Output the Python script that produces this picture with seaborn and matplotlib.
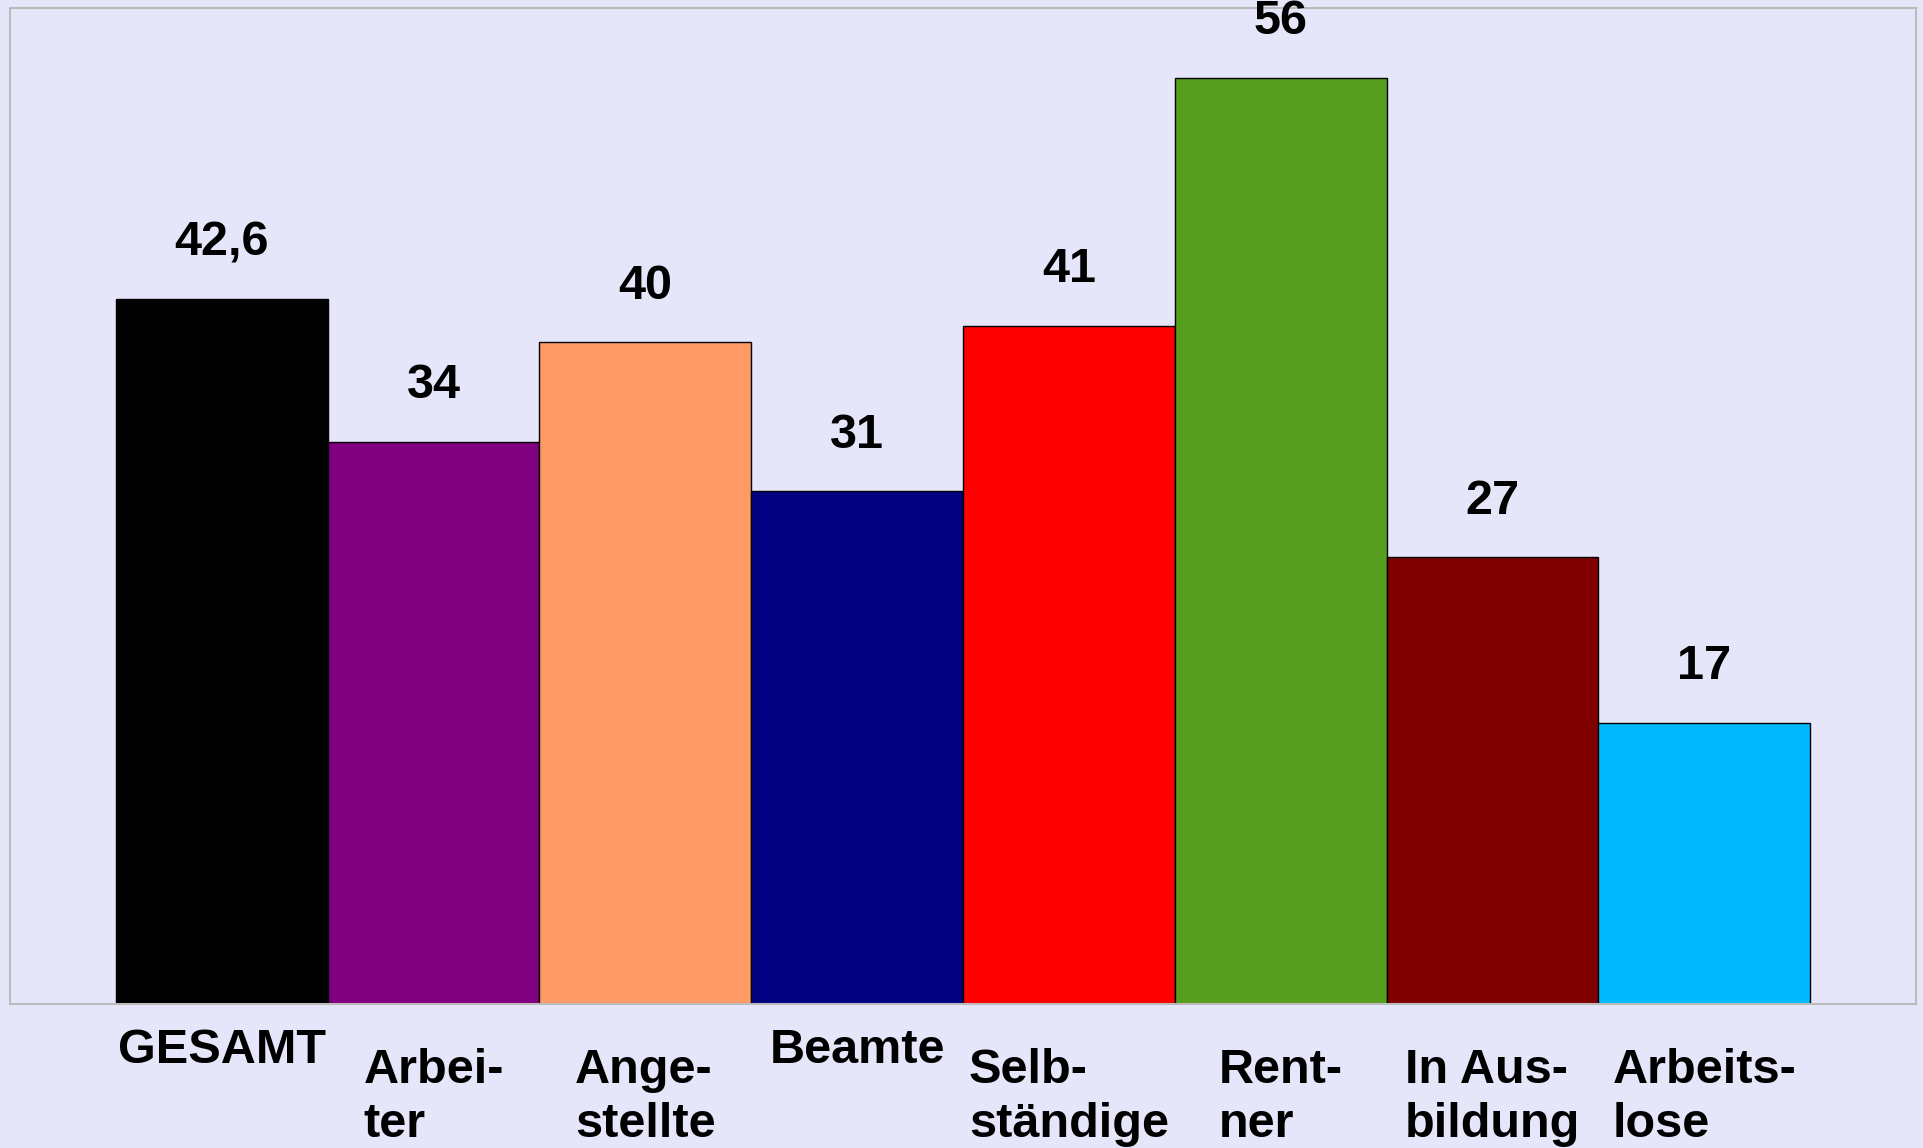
import matplotlib
matplotlib.use("Agg")
import matplotlib.pyplot as plt
import matplotlib.transforms as mtransforms
import seaborn as sns
import pandas as pd

# ---------------------------------------------------------
# DATA
# ---------------------------------------------------------
categories = ["GESAMT", "Arbei-\nter", "Ange-\nstellte", "Beamte",
              "Selb-\nständige", "Rent-\nner", "In Aus-\nbildung", "Arbeits-\nlose"]
values = [42.6, 34, 40, 31, 41, 56, 27, 17]
value_labels = ["42,6", "34", "40", "31", "41", "56", "27", "17"]
bar_colors = ["#000000", "#800080", "#FF9966", "#000080",
              "#FF0000", "#589E1E", "#800000", "#00B9FF"]

df = pd.DataFrame({"group": categories, "value": values})

# ---------------------------------------------------------
# STYLE
# ---------------------------------------------------------
bg = "#E6E6FA"
sns.set_style("white")
plt.rcParams["font.family"] = ["Liberation Sans", "DejaVu Sans"]
plt.rcParams["font.weight"] = "bold"
plt.rcParams["text.color"] = "black"
plt.rcParams["xtick.color"] = "black"

fig = plt.figure(figsize=(19.23, 11.48), dpi=100, facecolor=bg)
ax = fig.add_axes([0.0052, 0.1254, 0.9912, 0.8676])
ax.set_facecolor(bg)

sns.barplot(data=df, x="group", y="value", hue="group", palette=bar_colors,
            width=1.0, edgecolor="black", linewidth=1, saturation=1,
            legend=False, ax=ax)

# value labels above the bars
for cont, lab in zip(ax.containers, value_labels):
    ax.bar_label(cont, labels=[lab], padding=24, fontsize=35,
                 fontweight="bold", color="black", clip_on=False)

ax.set_ylim(0, 60.2)
ax.set_xlim(-1, 8)
ax.set_yticks([])
ax.set_xlabel("")
ax.set_ylabel("")
ax.tick_params(axis="x", length=0, pad=32, labelcolor="black")
ax.set_xticks(range(len(categories)))
ax.set_xticklabels(categories, fontsize=35, fontweight="bold",
                   linespacing=1.25, ha="center", multialignment="left")

# single-line labels sit a bit higher than the two-line ones
for t in ax.get_xticklabels():
    if "\n" not in t.get_text():
        t.set_transform(t.get_transform() +
                        mtransforms.ScaledTranslation(0, 15 / 72, fig.dpi_scale_trans))

for s in ax.spines.values():
    s.set_visible(True)
    s.set_color("#BBBBBB")
    s.set_linewidth(1.5)

fig.savefig("out.png", dpi=100, facecolor=bg)
